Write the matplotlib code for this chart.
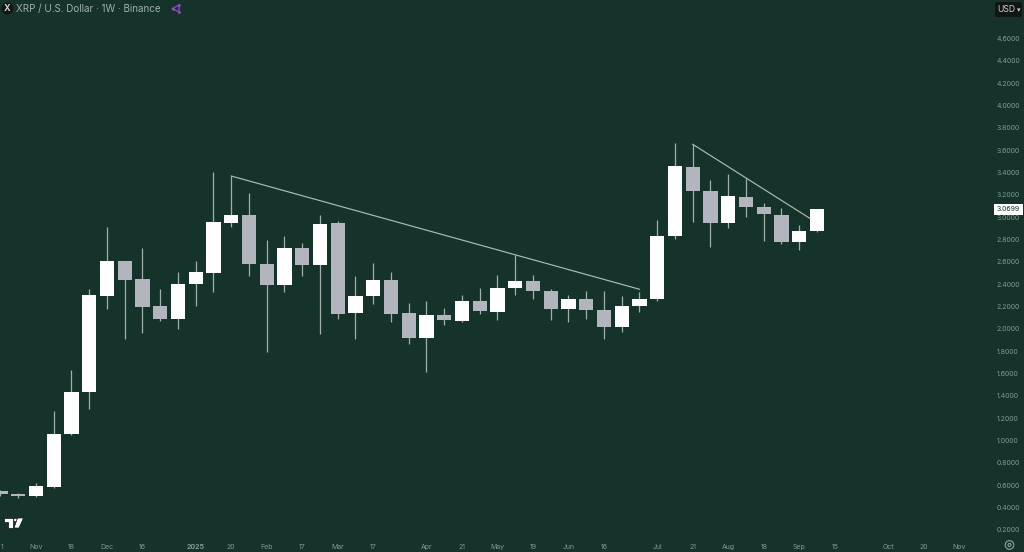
import matplotlib
matplotlib.use("Agg")

import matplotlib.pyplot as plt
from matplotlib.patches import Circle, FancyBboxPatch, Polygon

opens = [0.552, 0.519, 0.501, 0.587, 1.056, 1.432, 2.295, 2.608, 2.447, 2.202, 2.089, 2.399,
         2.503, 2.945, 3.020, 2.578, 2.393, 2.727, 2.575, 2.945, 2.142, 2.295, 2.438, 2.140,
         1.921, 2.122, 2.074, 2.253, 2.154, 2.366, 2.429, 2.342, 2.178, 2.268, 2.167, 2.014,
         2.205, 2.270, 2.834, 3.452, 3.237, 2.951, 3.184, 3.089, 3.022, 2.775, 2.877]
closes = [0.519, 0.501, 0.591, 1.056, 1.435, 2.301, 2.608, 2.441, 2.199, 2.091, 2.399, 2.507,
          2.954, 3.022, 2.578, 2.393, 2.727, 2.575, 2.939, 2.136, 2.295, 2.441, 2.136, 1.921,
          2.122, 2.077, 2.253, 2.160, 2.366, 2.429, 2.339, 2.178, 2.268, 2.167, 2.020, 2.205,
          2.270, 2.834, 3.456, 3.237, 2.948, 3.187, 3.089, 3.026, 2.775, 2.877, 3.0699]
highs = [0.558, 0.534, 0.618, 1.268, 1.632, 2.355, 2.910, 2.608, 2.727, 2.355, 2.509, 2.605,
         3.402, 3.369, 3.214, 2.793, 2.832, 2.766, 3.020, 2.966, 2.476, 2.593, 2.507, 2.232,
         2.247, 2.184, 2.304, 2.364, 2.483, 2.662, 2.480, 2.357, 2.301, 2.339, 2.339, 2.292,
         2.333, 2.975, 3.662, 3.653, 3.330, 3.384, 3.348, 3.125, 3.082, 2.930, 3.071]
lows = [0.504, 0.489, 0.492, 0.576, 1.050, 1.286, 2.176, 1.907, 1.961, 2.071, 1.999, 2.208,
        2.333, 2.910, 2.474, 1.796, 2.328, 2.474, 1.957, 2.089, 1.907, 2.223, 2.064, 1.865,
        1.617, 2.038, 2.059, 2.133, 2.080, 2.301, 2.265, 2.080, 2.064, 2.086, 1.912, 1.970,
        2.154, 2.253, 2.808, 2.960, 2.731, 2.906, 3.005, 2.784, 2.763, 2.704, 2.865]

price_ticks = [0.2, 0.4, 0.6, 0.8, 1.0, 1.2, 1.4, 1.6, 1.8, 2.0, 2.2, 2.4, 2.6, 2.8, 3.0, 3.2,
               3.4, 3.6, 3.8, 4.0, 4.2, 4.4, 4.6]
date_ticks = [0, 2, 4, 6, 8, 11, 13, 15, 17, 19, 21, 24, 26, 28, 30, 32, 34, 37, 39, 41, 43, 45,
              47, 50, 52, 54]
date_labels = ["1", "Nov", "18", "Dec", "16", "2025", "20", "Feb", "17", "Mar", "17", "Apr", "21",
               "May", "19", "Jun", "16", "Jul", "21", "Aug", "18", "Sep", "15", "Oct", "20", "Nov"]

trend_one_x = [13, 36]
trend_one_y = [3.369, 2.355]
trend_two_x = [39, 45.6]
trend_two_y = [3.653, 2.990]

background = "#15332b"
up_color = "#ffffff"
down_color = "#b2b5be"
wick_color = "#9fb0aa"
axis_text = "#7f9a91"

fig = plt.figure(figsize=(10.24, 5.52), facecolor=background)
plt.rcParams["font.family"] = ["Inter", "DejaVu Sans"]

ax = fig.add_axes([0, 14 / 552, 992 / 1024, 538 / 552], facecolor=background)
for spine in ax.spines.values():
    spine.set_visible(False)

positions = list(range(len(opens)))
colors = [up_color if c >= o else down_color for o, c in zip(opens, closes)]
bottoms = [min(o, c) for o, c in zip(opens, closes)]
heights = [abs(c - o) for o, c in zip(opens, closes)]

ax.vlines(positions, lows, highs, color=wick_color, linewidth=0.9, zorder=2)
ax.bar(positions, heights, bottom=bottoms, width=0.8, color=colors, zorder=3)

ax.plot(trend_one_x, trend_one_y, color="#a9bcb5", linewidth=0.85, zorder=4)
ax.plot(trend_two_x, trend_two_y, color="#a9bcb5", linewidth=0.85, zorder=4)

ax.set_xlim(-0.028, 55.86)
ax.set_ylim(0.128, 4.945)

ax.yaxis.tick_right()
ax.set_yticks(price_ticks)
ax.set_yticklabels([f"{p:.4f}" for p in price_ticks])
ax.tick_params(axis="y", length=0, pad=3.5, labelsize=5, labelcolor=axis_text)

ax.set_xticks(date_ticks)
ax.set_xticklabels(date_labels)
ax.tick_params(axis="x", length=0, pad=4.2, labelsize=5, labelcolor=axis_text)
ax.get_xticklabels()[0].set_ha("left")
ax.get_xticklabels()[5].set_fontweight("bold")

ax.annotate(
    f"{closes[-1]:.4f}",
    xy=(1, closes[-1]),
    xycoords=("axes fraction", "data"),
    xytext=(11.9, 0),
    textcoords="offset points",
    ha="center",
    va="center",
    fontsize=5,
    color="#15332b",
    bbox=dict(boxstyle="square,pad=0.36", facecolor="white", edgecolor="none"),
    zorder=6,
)

# chrome around the chart, in pixel coordinates
overlay = fig.add_axes([0, 0, 1, 1], facecolor="none")
overlay.set_xlim(0, 1024)
overlay.set_ylim(552, 0)
overlay.axis("off")

overlay.add_patch(Circle((7.5, 8.5), 6, facecolor="#111614", edgecolor="none"))
overlay.text(7.5, 8.7, "X", color="#d0d0d0", fontsize=6.5, fontweight="bold", ha="center", va="center")
overlay.text(16, 8.7, "XRP / U.S. Dollar · 1W · Binance", color="#9db0aa", fontsize=7.1, ha="left", va="center")

share_x = [172.5, 179, 179, 172.5]
share_y = [8.5, 5, 12, 8.5]
overlay.plot(share_x, share_y, color="#8f4fc0", linewidth=0.9)
overlay.scatter(share_x[:3], share_y[:3], s=4, color="#8f4fc0", linewidths=0)

overlay.add_patch(FancyBboxPatch((995, 2), 27, 15, boxstyle="round,pad=0,rounding_size=2",
                                 facecolor="#111614", edgecolor="none"))
overlay.text(1006, 9.3, "USD", color="#c8cfcc", fontsize=6.2, ha="center", va="center")
overlay.text(1018.5, 9.8, "▾", color="#c8cfcc", fontsize=5, ha="center", va="center")

# trading view logo
overlay.add_patch(Polygon([(3.5, 518), (13, 518), (13, 528), (8, 528), (8, 521.5), (3.5, 521.5)],
                          facecolor="white", edgecolor="#0d1412", linewidth=0.5))
overlay.add_patch(Circle((15.5, 520), 1.8, facecolor="white", edgecolor="#0d1412", linewidth=0.5))
overlay.add_patch(Polygon([(17.5, 518), (23.5, 518), (19, 528), (14, 528)],
                          facecolor="white", edgecolor="#0d1412", linewidth=0.5))

overlay.add_patch(Circle((1009.5, 545), 4.3, facecolor="none", edgecolor="#8ea69d", linewidth=0.8))
overlay.add_patch(Circle((1009.5, 545), 1.5, facecolor="none", edgecolor="#8ea69d", linewidth=0.8))

fig.savefig("out.png", dpi=100, facecolor=background)
plt.close(fig)
